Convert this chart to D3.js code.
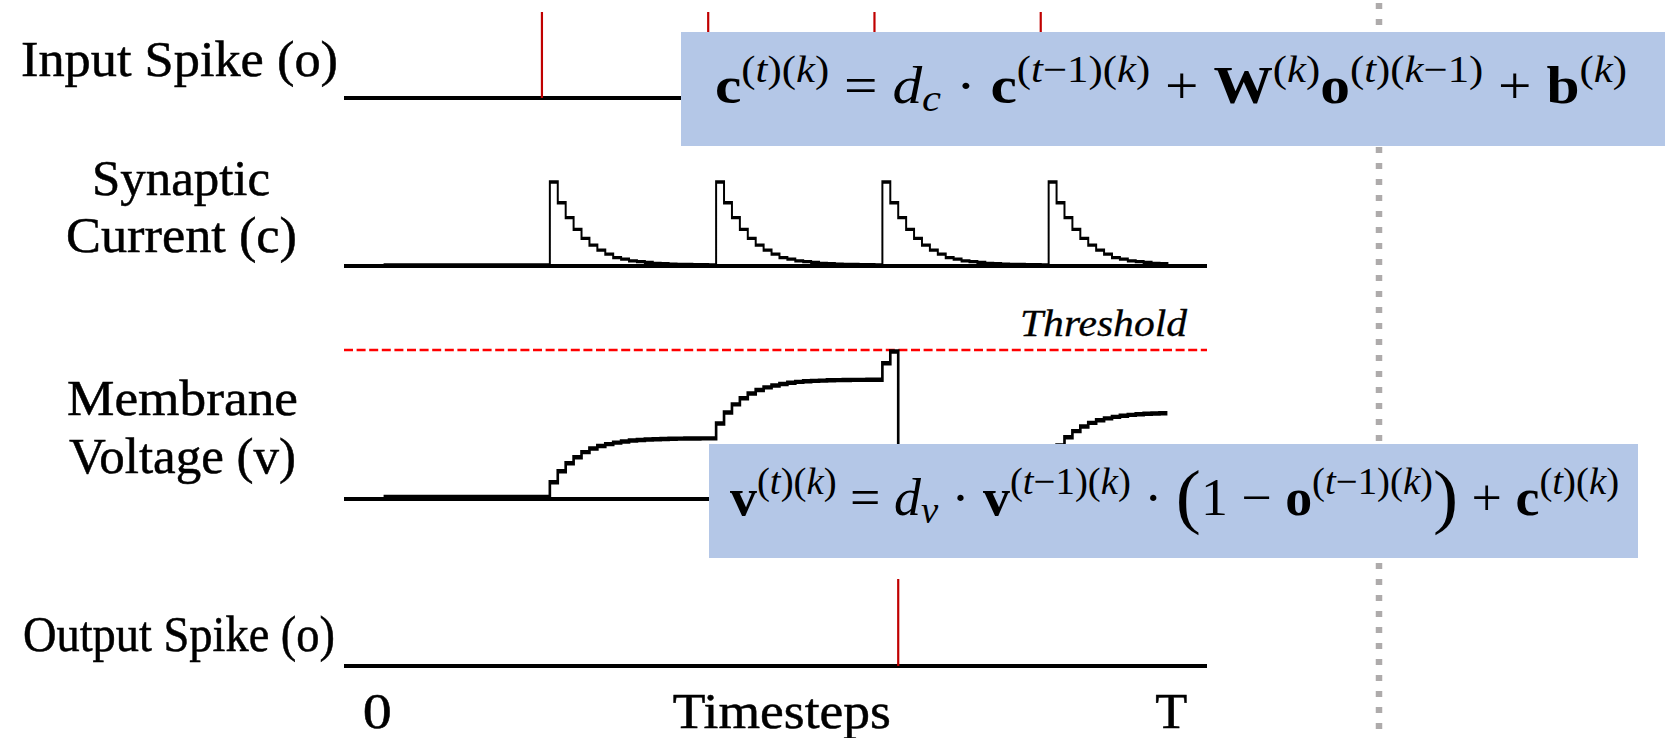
<!DOCTYPE html>
<meta charset="utf-8">
<style>
body {
  margin: 0;
  background-color: #fff;
}
svg { display: block; }

.label {
  font-family: "Liberation Serif", serif;
  font-size: 50px;
  fill: #000;
  stroke: #000;
  stroke-width: 0.5px;
}

.threshold-label {
  font-family: "Liberation Serif", serif;
  font-style: italic;
  font-size: 37px;
  fill: #000;
  stroke: #000;
  stroke-width: 0.3px;
}

.axis-line {
  stroke: #000;
  stroke-width: 4.2px;
}

.spike {
  stroke: #c00000;
  stroke-width: 2.2px;
}

.curve {
  fill: none;
  stroke: #000;
  stroke-linejoin: miter;
}

.threshold {
  stroke: #ff0000;
  stroke-width: 2.4px;
  stroke-dasharray: 9,3.6;
}

.divider {
  stroke: #aeabab;
  stroke-width: 6.5px;
  stroke-dasharray: 6,10;
  stroke-dashoffset: -3;
}

.eq-box { fill: #b4c7e7; }

.eq {
  font-family: "Liberation Serif", serif;
  fill: #000;
  white-space: pre;
}
</style>
<body>
<svg width="1668" height="738"></svg>

<script src="https://d3js.org/d3.v7.min.js"></script>
<script>

// ---- data ----
var firstStep = 5;              // first timestep that is plotted
var lastAxisStep = 109;         // right end of the time axis
var inputSpikes = [25, 46, 67, 88];
var outputSpikes = [70];
var thresholdValue = 1.0;

// synaptic current, t = 5 .. 104 (peak = 1)
var synapticCurrent = [
  0, 0, 0, 0, 0, 0, 0, 0, 0, 0, 0, 0, 0, 0, 0, 0, 0, 0, 0, 0, 0,
  1, 0.75, 0.57, 0.43, 0.32, 0.24, 0.18, 0.13, 0.09, 0.07, 0.05, 0.04, 0.03, 0.02, 0.015, 0.01, 0.008, 0.006, 0.004, 0.003, 0.002,
  1, 0.75, 0.57, 0.43, 0.32, 0.24, 0.18, 0.13, 0.09, 0.07, 0.05, 0.04, 0.03, 0.02, 0.015, 0.01, 0.008, 0.006, 0.004, 0.003, 0.002,
  1, 0.75, 0.57, 0.43, 0.32, 0.24, 0.18, 0.13, 0.09, 0.07, 0.05, 0.04, 0.03, 0.02, 0.015, 0.01, 0.008, 0.006, 0.004, 0.003, 0.002,
  1, 0.75, 0.57, 0.43, 0.32, 0.24, 0.18, 0.13, 0.09, 0.07, 0.05, 0.04, 0.03, 0.02, 0.015, 0.01
];

// membrane voltage, t = 5 .. 104 (threshold = 1)
var membraneVoltage = [
  0, 0, 0, 0, 0, 0, 0, 0, 0, 0, 0, 0, 0, 0, 0, 0, 0, 0, 0, 0, 0,
  0.10, 0.175, 0.23, 0.27, 0.305, 0.33, 0.347, 0.36, 0.37, 0.378, 0.384, 0.388, 0.391, 0.393, 0.395, 0.396, 0.397, 0.398, 0.398, 0.399, 0.399,
  0.50, 0.575, 0.63, 0.672, 0.704, 0.728, 0.746, 0.759, 0.769, 0.777, 0.783, 0.787, 0.79, 0.792, 0.794, 0.795, 0.796, 0.797, 0.797, 0.798, 0.798,
  0.91, 0.99,
  0.04, 0.075, 0.10, 0.12, 0.135, 0.145, 0.152, 0.158, 0.162, 0.166, 0.168, 0.17, 0.171, 0.172, 0.173, 0.174, 0.174, 0.175, 0.175,
  0.275, 0.35, 0.406, 0.448, 0.48, 0.504, 0.522, 0.535, 0.545, 0.553, 0.559, 0.563, 0.566, 0.568, 0.57, 0.57
];

var rowLabels = [["Input Spike (o)"], ["Synaptic", "Current (c)"], ["Membrane", "Voltage (v)"], ["Output Spike (o)"]];
var tickLabels = ["0", "Timesteps", "T"];
var tickSteps = [4.2, 55.3, 104.5];
var thresholdText = "Threshold";

// equations: [text, style (b bold / i italic / r roman), level (0 base, 1 sup, -1 sub, 2 big)]
var eqCurrent = [
  ["c","b",0], ["(","r",1], ["t","i",1], [")","r",1], ["(","r",1], ["k","i",1], [")","r",1],
  [" = ","r",0], ["d","i",0], ["c","i",-1], [" · ","r",0],
  ["c","b",0], ["(","r",1], ["t","i",1], ["−1","r",1], [")","r",1], ["(","r",1], ["k","i",1], [")","r",1],
  [" + ","r",0],
  ["W","b",0], ["(","r",1], ["k","i",1], [")","r",1],
  ["o","b",0], ["(","r",1], ["t","i",1], [")","r",1], ["(","r",1], ["k","i",1], ["−1","r",1], [")","r",1],
  [" + ","r",0],
  ["b","b",0], ["(","r",1], ["k","i",1], [")","r",1]
];
var eqVoltage = [
  ["v","b",0], ["(","r",1], ["t","i",1], [")","r",1], ["(","r",1], ["k","i",1], [")","r",1],
  [" = ","r",0], ["d","i",0], ["v","i",-1], [" · ","r",0],
  ["v","b",0], ["(","r",1], ["t","i",1], ["−1","r",1], [")","r",1], ["(","r",1], ["k","i",1], [")","r",1],
  [" · ","r",0], ["(","r",2], ["1 − ","r",0],
  ["o","b",0], ["(","r",1], ["t","i",1], ["−1","r",1], [")","r",1], ["(","r",1], ["k","i",1], [")","r",1],
  [")","r",2], [" + ","r",0],
  ["c","b",0], ["(","r",1], ["t","i",1], [")","r",1], ["(","r",1], ["k","i",1], [")","r",1]
];

// ---- layout ----
var svg = d3.select("svg");
var curveSquash = 0.6;   // horizontal squash so the steps' risers come out thin

var x = d3.scaleLinear().domain([0, lastAxisStep]).range([344, 1207]);
var xq = d3.scaleLinear().domain([0, lastAxisStep]).range([344 / curveSquash, 1207 / curveSquash]);

var yIn  = d3.scaleLinear().domain([0, 1]).range([98, 12]);
var yC   = d3.scaleLinear().domain([0, 1]).range([265, 182]);
var yV   = d3.scaleLinear().domain([0, thresholdValue]).range([497, 350]);
var yOut = d3.scaleLinear().domain([0, 1]).range([666, 579]);

var cData = synapticCurrent.map(function(c, i) { return {t: firstStep + i, v: c}; });
var vData = membraneVoltage.map(function(v, i) { return {t: firstStep + i, v: v}; });

// divider
svg.append("line")
  .attr("class", "divider")
  .attr("x1", 1379).attr("x2", 1379)
  .attr("y1", 0).attr("y2", 738);

// axis lines
[yIn(0), yC(0) + 1, yV(0) + 2, yOut(0)].forEach(function(y) {
  svg.append("line")
    .attr("class", "axis-line")
    .attr("x1", x(0)).attr("x2", x(lastAxisStep))
    .attr("y1", y).attr("y2", y);
});

// threshold
svg.append("line")
  .attr("class", "threshold")
  .attr("x1", x(0)).attr("x2", x(lastAxisStep))
  .attr("y1", yV(thresholdValue)).attr("y2", yV(thresholdValue));

svg.append("text")
  .attr("class", "threshold-label")
  .attr("x", 1020).attr("y", 336)
  .attr("textLength", 167).attr("lengthAdjust", "spacingAndGlyphs")
  .text(thresholdText);

// step curves
var gCurves = svg.append("g").attr("transform", "scale(" + curveSquash + ",1)");

gCurves.append("path")
  .datum(cData)
  .attr("class", "curve")
  .style("stroke-width", "3.3px")
  .attr("d", d3.line().x(function(d) { return xq(d.t); }).y(function(d) { return yC(d.v); }).curve(d3.curveStepAfter));

gCurves.append("path")
  .datum(vData)
  .attr("class", "curve")
  .style("stroke-width", "4.4px")
  .attr("d", d3.line().x(function(d) { return xq(d.t); }).y(function(d) { return yV(d.v); }).curve(d3.curveStepAfter));

// spikes
svg.selectAll(".spike-in").data(inputSpikes)
  .enter().append("line")
  .attr("class", "spike spike-in")
  .attr("x1", function(d) { return x(d); }).attr("x2", function(d) { return x(d); })
  .attr("y1", yIn(0)).attr("y2", yIn(1));

svg.selectAll(".spike-out").data(outputSpikes)
  .enter().append("line")
  .attr("class", "spike spike-out")
  .attr("x1", function(d) { return x(d); }).attr("x2", function(d) { return x(d); })
  .attr("y1", yOut(0)).attr("y2", yOut(1));

// row labels: [left x, baseline, width] per line
var labelPos = [
  [[21, 76, 317]],
  [[92, 195, 178], [66, 252, 231]],
  [[67, 415, 231], [69, 473, 227]],
  [[23, 651, 312]]
];
rowLabels.forEach(function(lines, r) {
  lines.forEach(function(txt, j) {
    var p = labelPos[r][j];
    svg.append("text")
      .attr("class", "label")
      .attr("x", p[0]).attr("y", p[1])
      .attr("textLength", p[2]).attr("lengthAdjust", "spacingAndGlyphs")
      .text(txt);
  });
});

// time axis labels
var tickWidths = [29, 218, 32];
tickLabels.forEach(function(txt, i) {
  svg.append("text")
    .attr("class", "label")
    .attr("x", x(tickSteps[i]) - tickWidths[i] / 2).attr("y", 728)
    .attr("textLength", tickWidths[i]).attr("lengthAdjust", "spacingAndGlyphs")
    .text(txt);
});

// equation boxes
function drawEquation(parts, box, fs) {
  svg.append("rect")
    .attr("class", "eq-box")
    .attr("x", box.x).attr("y", box.y)
    .attr("width", box.w).attr("height", box.h);

  var base = box.y + 71;
  var t = svg.append("text").attr("class", "eq").attr("x", 0);

  parts.forEach(function(p) {
    var size = fs, y = base;
    if (p[2] === 1)  { size = fs * 0.72; y = base - fs * 0.4; }
    if (p[2] === -1) { size = fs * 0.72; y = base + fs * 0.16; }
    if (p[2] === 2)  { size = fs * 1.4; y = base + fs * 0.1; }
    t.append("tspan")
      .attr("y", y)
      .style("font-size", size + "px")
      .style("font-weight", p[1] === "b" ? "bold" : "normal")
      .style("font-style", p[1] === "i" ? "italic" : "normal")
      .text(p[0]);
  });

  var bb = t.node().getBBox();
  var s = box.textW / bb.width;
  t.attr("transform", "translate(" + box.textX + ",0) scale(" + s + ",1) translate(" + (-bb.x) + ",0)");
}

drawEquation(eqCurrent, {x: 681, y: 32, w: 984, h: 114, textX: 715, textW: 912}, 52);
drawEquation(eqVoltage, {x: 709, y: 444, w: 929, h: 114, textX: 730, textW: 889}, 52);

</script>
</body>
